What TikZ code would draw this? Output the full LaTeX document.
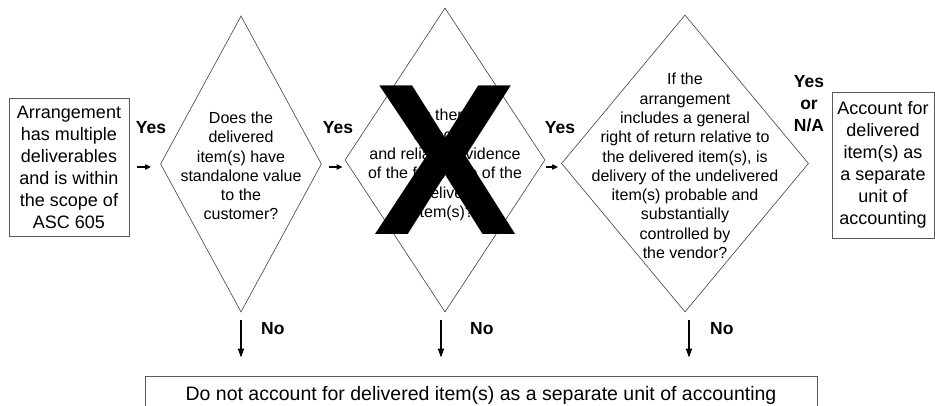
\documentclass[tikz,border=0pt]{standalone}
\usepackage{fontspec}
\setmainfont{Liberation Sans}
\usetikzlibrary{shapes.geometric,arrows.meta}

\begin{document}
\begin{tikzpicture}[x=1pt,y=-1pt,>={Triangle[length=9pt,width=6pt]},
    block/.style={draw=black!65,line width=0.8pt,inner sep=0pt,align=center,font=\fontsize{18}{22}\selectfont},
    decision/.style={diamond,draw=black!75,line width=0.6pt,inner sep=0pt},
    question/.style={inner sep=0pt,align=center,font=\fontsize{16}{19.3}\selectfont},
    answer/.style={inner sep=0pt,align=center,font=\fontsize{17.5}{22}\selectfont\bfseries},
    flow/.style={->,line width=1.6pt},
    short flow/.style={-{Triangle[length=6pt,width=5pt]},line width=1.6pt}]
                \clip (0,0) rectangle (935,406);

                \node[block,minimum width=120,minimum height=138] (arrange) at (69,167) {Arrangement\\has multiple\\deliverables\\and is within\\the scope of\\ASC 605};

                \node[decision,minimum width=161,minimum height=296] (standalone) at (241,164) {};
                \node[question] (standalone text) at (241,166) {Does the\\delivered\\item(s) have\\standalone value\\to the\\customer?};

                \node[decision,minimum width=200,minimum height=304] (evidence) at (445,160) {};
                \node[question] (evidence text) at (445,165) {Is there\\objective\\and reliable evidence\\of the fair value of the\\undelivered\\item(s)?};
                \node[inner sep=0pt,font=\fontsize{216}{216}\selectfont\bfseries] (cross) at (445.5,160.5) {X};

                \node[decision,minimum width=247,minimum height=297] (return) at (685,163.5) {};
                \node[question] (return text) at (685,166) {If the\\arrangement\\includes a general\\right of return relative to\\the delivered item(s), is\\delivery of the undelivered\\item(s) probable and\\substantially\\controlled by\\the vendor?};

                \node[block,minimum width=102,minimum height=146] (separate) at (883,165) {Account for\\delivered\\item(s) as\\a separate\\unit of\\accounting};

                \node[block,minimum width=672,minimum height=38,font=\fontsize{19.5}{23}\selectfont] (combine) at (481,395) {Do not account for delivered item(s) as a separate unit of accounting};

                \node[answer] (yes1) at (151,128) {Yes};
                \node[answer] (yes2) at (338,128) {Yes};
                \node[answer] (yes3) at (560,128) {Yes};
                \node[answer] (yes4) at (809,104) {Yes\\or\\N/A};
                \node[answer,anchor=west] (no1) at (261,329) {No};
                \node[answer,anchor=west] (no2) at (470,329) {No};
                \node[answer,anchor=west] (no3) at (710,329) {No};

                \coordinate (evidence exit) at ([xshift=-4pt]evidence.south);
                \coordinate (return exit) at ([xshift=4pt]return.south);

                \path
                    (arrange.east) edge [short flow,shorten <=8pt,shorten >=9pt] (arrange.east -| standalone.west)
                    (arrange.east -| standalone.east) edge [short flow,shorten <=7pt,shorten >=2pt] (arrange.east -| evidence.west)
                    (arrange.east -| evidence.east) edge [short flow,shorten <=1pt,shorten >=3pt] (arrange.east -| return.west)
                    (standalone.south) edge [flow,shorten <=8pt,shorten >=18pt] (standalone.south |- combine.north)
                    (evidence exit) edge [flow,shorten <=8pt,shorten >=18pt] (evidence exit |- combine.north)
                    (return exit) edge [flow,shorten <=8pt,shorten >=18pt] (return exit |- combine.north)
                    ;
            \end{tikzpicture}
\end{document}
